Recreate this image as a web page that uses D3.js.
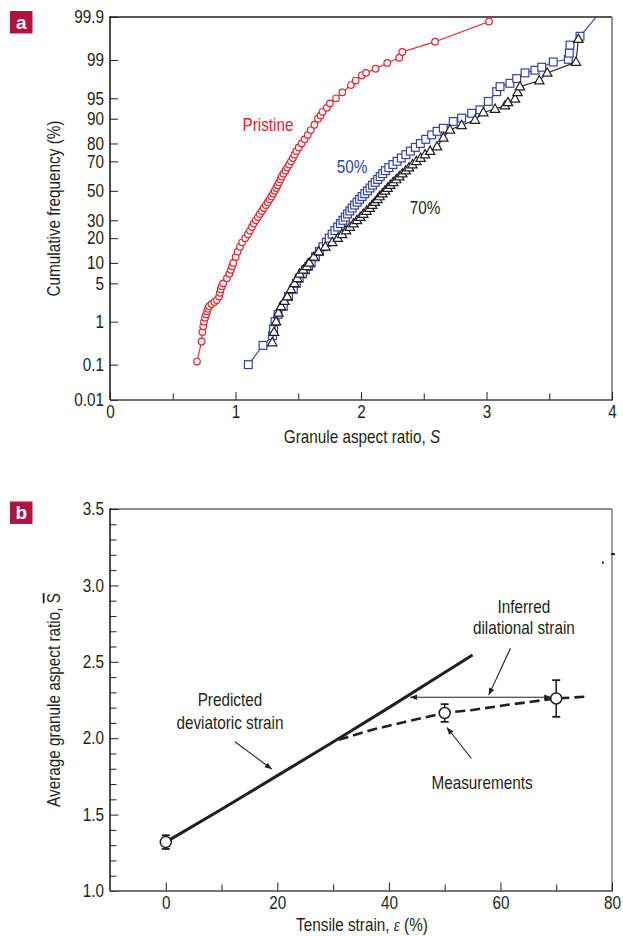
<!DOCTYPE html>
<html>
<head>
<meta charset="utf-8">
<title>granule aspect ratio</title>
<script src="https://cdn.jsdelivr.net/npm/d3@7"></script>
<style>
body { margin: 0; background: #fff; }
svg text { font-family: "Liberation Sans", Arial, sans-serif; font-size: 18px; fill: #231f20; }
.tick line { stroke: #231f20; }
</style>
</head>
<body>
<svg id="chart" width="623" height="936"></svg>
<script>
// panel a : cumulative frequency (%) vs granule aspect ratio S
var pristinePct = [0.12,0.37,0.6,0.8,1.0,1.2,1.4,1.6,1.8,2.0,2.2,2.4,2.6,3,3.5,4,4.5,5,6,7,8,9,10,12,14,16,18,20,22,24,26,28,30,32,34,36,38,40,42,44,46,48,50,52,54,56,58,60,62,64,66,68,70,72,74,76,78,80,82,84,86,88,90,91,92,93,94,95,96,97,97.5,98,98.2,98.5,98.85,99.1,99.32,99.6,99.87];
var pristineS = [0.693,0.730,0.736,0.743,0.749,0.757,0.766,0.773,0.781,0.789,0.809,0.831,0.851,0.869,0.876,0.882,0.891,0.902,0.932,0.951,0.963,0.973,0.982,1.001,1.017,1.036,1.053,1.077,1.099,1.115,1.131,1.145,1.162,1.178,1.194,1.210,1.226,1.242,1.257,1.271,1.286,1.300,1.312,1.324,1.335,1.347,1.359,1.368,1.382,1.398,1.412,1.427,1.442,1.457,1.470,1.485,1.504,1.527,1.551,1.576,1.600,1.629,1.657,1.678,1.693,1.728,1.752,1.801,1.851,1.920,1.957,2.006,2.040,2.116,2.209,2.305,2.329,2.590,3.020];

var s50Pct = [0.1,0.3,0.5,0.7,1.0,1.4,2,3,4,5,6,7,8,9,10,12,14,16,18,20,22,24,26,28,30,32,34,36,38,40,42,44,46,48,50,52,54,56,58,60,62,64,66,68,70,72,74,76,78,80,82,84,85.5,86.7,89.1,90.2,91.6,92.5,94.4,96.1,96.8,97.2,97.7,98.2,98.4,98.6,98.9,99.03,99.28,99.52,99.7,99.95];
var s50S = [1.102,1.219,1.295,1.303,1.315,1.339,1.381,1.422,1.461,1.485,1.508,1.534,1.558,1.583,1.603,1.637,1.668,1.697,1.724,1.747,1.770,1.792,1.814,1.836,1.856,1.875,1.893,1.911,1.929,1.949,1.969,1.989,2.009,2.030,2.051,2.072,2.092,2.113,2.133,2.153,2.173,2.194,2.222,2.254,2.287,2.321,2.357,2.393,2.433,2.473,2.516,2.563,2.606,2.656,2.735,2.802,2.882,2.948,3.014,3.081,3.108,3.187,3.241,3.307,3.386,3.440,3.532,3.652,3.660,3.665,3.745,3.95];

var s70Pct = [0.35,0.6,1.0,1.5,2.0,2.5,3,4,5,6,7,8,9,10,12,14,16,18,20,22,24,26,28,30,32,34,36,38,40,42,44,46,48,50,52,54,56,58,60,62,64,66,68,70,72,74,76,78.4,82.7,86.1,87.8,89.6,91.8,92.7,93.5,94.2,94.9,96.0,96.8,97.5,98.2,98.9,99.65];
var s70S = [1.293,1.307,1.323,1.342,1.363,1.390,1.413,1.442,1.470,1.493,1.511,1.541,1.568,1.588,1.624,1.663,1.716,1.771,1.815,1.849,1.881,1.911,1.940,1.968,1.994,2.018,2.044,2.069,2.089,2.110,2.131,2.148,2.170,2.191,2.212,2.233,2.257,2.281,2.305,2.329,2.356,2.382,2.410,2.441,2.475,2.510,2.551,2.606,2.656,2.709,2.802,2.908,2.975,3.068,3.147,3.171,3.227,3.247,3.267,3.421,3.484,3.713,3.732];

var freqTicks = [0.01,0.1,1,5,10,20,30,50,70,80,90,95,99,99.9];
var freqTickLabels = ["0.01","0.1","1","5","10","20","30","50","70","80","90","95","99","99.9"];

// panel b : average aspect ratio vs tensile strain
var strainMeas = [0, 50, 70];
var meanS = [1.32, 2.165, 2.26];
var errS = [0.045, 0.058, 0.12];
var predStrain = [0, 10, 20, 30, 40, 50, 55];
var predS = [1.32, 1.535, 1.755, 1.975, 2.20, 2.43, 2.545];
var dilStrain = [31, 37, 43, 50, 55, 61, 70, 75.5];
var dilS = [1.99, 2.055, 2.108, 2.165, 2.185, 2.217, 2.26, 2.272];

var RED = "#e3262e", BLUE = "#2f44a0", BLACK = "#231f20", BOXRED = "#b3123f";
var NARROW = 0.85;   // no condensed face installed, squeeze the sans instead

// inverse of the normal cdf (Acklam)
function probit(p) {
    var a = [-3.969683028665376e+01, 2.209460984245205e+02, -2.759285104469687e+02, 1.383577518672690e+02, -3.066479806614716e+01, 2.506628277459239e+00];
    var b = [-5.447609879822406e+01, 1.615858368580409e+02, -1.556989798598866e+02, 6.680131188771972e+01, -1.328068155288572e+01];
    var c = [-7.784894002430293e-03, -3.223964580411365e-01, -2.400758277161838e+00, -2.549732539343734e+00, 4.374664141464968e+00, 2.938163982698783e+00];
    var d = [7.784695709041462e-03, 3.224671290700398e-01, 2.445134137142996e+00, 3.754408661907416e+00];
    var q, r;
    if (p < 0.02425) {
        q = Math.sqrt(-2 * Math.log(p));
        return (((((c[0]*q+c[1])*q+c[2])*q+c[3])*q+c[4])*q+c[5]) / ((((d[0]*q+d[1])*q+d[2])*q+d[3])*q+1);
    }
    if (p <= 1 - 0.02425) {
        q = p - 0.5; r = q * q;
        return (((((a[0]*r+a[1])*r+a[2])*r+a[3])*r+a[4])*r+a[5])*q / (((((b[0]*r+b[1])*r+b[2])*r+b[3])*r+b[4])*r+1);
    }
    q = Math.sqrt(-2 * Math.log(1 - p));
    return -(((((c[0]*q+c[1])*q+c[2])*q+c[3])*q+c[4])*q+c[5]) / ((((d[0]*q+d[1])*q+d[2])*q+d[3])*q+1);
}

var svg = d3.select("#chart");

svg.append("defs").append("marker")
    .attr("id", "head")
    .attr("viewBox", "0 0 10 10").attr("refX", 10).attr("refY", 5)
    .attr("markerWidth", 9).attr("markerHeight", 7).attr("markerUnits", "userSpaceOnUse")
    .attr("orient", "auto-start-reverse")
  .append("path").attr("d", "M0,1 L10,5 L0,9 Z").attr("fill", BLACK);

function panelLetter(y, t) {
    svg.append("rect").attr("x", 10).attr("y", y).attr("width", 22.5).attr("height", 22.5).attr("fill", BOXRED);
    svg.append("text").attr("class", "letter").attr("x", 21.2).attr("y", y + 17.5).attr("text-anchor", "middle")
        .style("font-weight", "bold").style("font-size", "19px").style("fill", "#fff").text(t);
}

// ---------------- panel a ----------------
var ax0 = 110, ax1 = 612, ay0 = 17, ay1 = 400;
var xa = d3.scaleLinear().domain([0, 4]).range([ax0, ax1]);
var za = d3.scaleLinear().domain([probit(0.0001), probit(0.999)]).range([ay1, ay0]);
function ya(p) { return za(probit(p / 100)); }

panelLetter(11, "a");

var ga = svg.append("g");
ga.append("defs").append("clipPath").attr("id", "clipA")
  .append("rect").attr("x", ax0).attr("y", ay0).attr("width", ax1 - ax0).attr("height", ay1 - ay0);

// frame
ga.append("line").attr("x1", ax0).attr("x2", ax1).attr("y1", ay0).attr("y2", ay0).attr("stroke", BLACK).attr("stroke-width", 1.6);
ga.append("line").attr("x1", ax1).attr("x2", ax1).attr("y1", ay0).attr("y2", ay1).attr("stroke", "#7a7a7a").attr("stroke-width", 1.6);

var yAxisA = d3.axisLeft(za)
    .tickValues(freqTicks.map(function(v){ return probit(v / 100); }))
    .tickFormat(function(d, i){ return freqTickLabels[i]; })
    .tickSize(-8).tickPadding(6);
ga.append("g").attr("transform", "translate(" + ax0 + ",0)").call(yAxisA)
  .call(function(g){ g.select(".domain").remove(); g.selectAll("text").style("font-size", "18px").attr("fill", BLACK); });

var xAxisA = d3.axisBottom(xa)
    .tickValues(d3.range(0, 4.01, 0.5))
    .tickFormat(function(d){ return d % 1 === 0 ? d : ""; })
    .tickSize(-8).tickPadding(5);
ga.append("g").attr("transform", "translate(0," + ay1 + ")").call(xAxisA)
  .call(function(g){
      g.select(".domain").remove();
      g.selectAll(".tick line").attr("y2", function(d){ return d % 1 === 0 ? -8 : -6.5; });
      g.selectAll("text").style("font-size", "18px").attr("fill", BLACK);
  });

ga.append("line").attr("x1", ax0).attr("x2", ax0).attr("y1", ay0 - 0.8).attr("y2", ay1).attr("stroke", BLACK).attr("stroke-width", 1.6);
ga.append("line").attr("x1", ax0).attr("x2", ax1 + 0.8).attr("y1", ay1).attr("y2", ay1).attr("stroke", "#444").attr("stroke-width", 1.6);

var titleA = ga.append("text").attr("x", (ax0 + ax1) / 2 + 1).attr("y", 443).attr("text-anchor", "middle");
titleA.append("tspan").text("Granule aspect ratio, ");
titleA.append("tspan").style("font-style", "italic").text("S");

ga.append("text").attr("transform", "translate(60," + ((ay0 + ay1) / 2) + ") rotate(-90)")
  .attr("text-anchor", "middle").text("Cumulative frequency (%)");

var plotA = ga.append("g").attr("clip-path", "url(#clipA)");

function series(pct, S) {
    return pct.map(function(p, i){ return [xa(S[i]), ya(p)]; });
}
var line = d3.line();

var redPts = series(pristinePct, pristineS);
var bluePts = series(s50Pct, s50S);
var blackPts = series(s70Pct, s70S);

plotA.append("path").attr("d", line(redPts)).attr("fill", "none").attr("stroke", RED).attr("stroke-width", 1.1);
plotA.selectAll(".c").data(redPts).enter().append("circle")
    .attr("cx", function(d){ return d[0]; }).attr("cy", function(d){ return d[1]; })
    .attr("r", 3.3).attr("fill", "#fff").attr("stroke", RED).attr("stroke-width", 1.2);

plotA.append("path").attr("d", line(bluePts)).attr("fill", "none").attr("stroke", BLUE).attr("stroke-width", 1.1);
plotA.selectAll(".sq").data(bluePts).enter().append("rect")
    .attr("x", function(d){ return d[0] - 3.9; }).attr("y", function(d){ return d[1] - 3.9; })
    .attr("width", 7.8).attr("height", 7.8)
    .attr("fill", "#fff").attr("stroke", BLUE).attr("stroke-width", 1.2);

plotA.append("path").attr("d", line(blackPts)).attr("fill", "none").attr("stroke", BLACK).attr("stroke-width", 1.1);
plotA.selectAll(".tr").data(blackPts).enter().append("path")
    .attr("d", function(d){ return "M" + d[0] + "," + (d[1] - 5) + "L" + (d[0] + 4.7) + "," + (d[1] + 3.3) + "L" + (d[0] - 4.7) + "," + (d[1] + 3.3) + "Z"; })
    .attr("fill", "#fff").attr("stroke", BLACK).attr("stroke-width", 1.2);

ga.append("text").attr("x", xa(1.259)).attr("y", ya(88)).attr("dy", "0.35em").attr("text-anchor", "middle").style("fill", RED).text("Pristine");
ga.append("text").attr("x", xa(1.928)).attr("y", ya(66.5)).attr("dy", "0.35em").attr("text-anchor", "middle").style("fill", BLUE).text("50%");
ga.append("text").attr("x", xa(2.51)).attr("y", ya(38)).attr("dy", "0.35em").attr("text-anchor", "middle").text("70%");

// ---------------- panel b ----------------
var bx0 = 110, bx1 = 612, by0 = 509, by1 = 891;
var xb = d3.scaleLinear().domain([-10, 80]).range([bx0, bx1]);
var yb = d3.scaleLinear().domain([1.0, 3.5]).range([by1, by0]);

panelLetter(501.5, "b");

var gb = svg.append("g");
gb.append("line").attr("x1", bx0).attr("x2", bx1).attr("y1", by0).attr("y2", by0).attr("stroke", "#6a6a6a").attr("stroke-width", 1.6);
gb.append("line").attr("x1", bx1).attr("x2", bx1).attr("y1", by0).attr("y2", by1).attr("stroke", "#8a8a8a").attr("stroke-width", 1.6);

function isHalf(d) { return Math.abs(d * 2 - Math.round(d * 2)) < 1e-6; }
var yAxisB = d3.axisLeft(yb).tickValues(d3.range(1.0, 3.51, 0.1))
    .tickFormat(function(d){ return isHalf(d) ? d3.format(".1f")(d) : ""; })
    .tickSize(-8).tickPadding(6);
gb.append("g").attr("transform", "translate(" + bx0 + ",0)").call(yAxisB)
  .call(function(g){
      g.select(".domain").remove();
      g.selectAll(".tick line").attr("x2", function(d){ return isHalf(d) ? 8.5 : 6.5; });
      g.selectAll("text").style("font-size", "18px").attr("fill", BLACK);
  });

var xAxisB = d3.axisBottom(xb).tickValues(d3.range(0, 80.1, 10))
    .tickFormat(function(d){ return d % 20 === 0 ? d : ""; })
    .tickSize(-8).tickPadding(5);
gb.append("g").attr("transform", "translate(0," + by1 + ")").call(xAxisB)
  .call(function(g){
      g.select(".domain").remove();
      g.selectAll(".tick line").attr("y2", function(d){ return d % 20 === 0 ? -8.5 : -6.5; });
      g.selectAll("text").style("font-size", "18px").attr("fill", BLACK);
  });

gb.append("line").attr("x1", bx0).attr("x2", bx0).attr("y1", by0 - 0.8).attr("y2", by1).attr("stroke", BLACK).attr("stroke-width", 1.6);
gb.append("line").attr("x1", bx0).attr("x2", bx1 + 0.8).attr("y1", by1).attr("y2", by1).attr("stroke", "#444").attr("stroke-width", 1.6);

var titleB = gb.append("text").attr("x", (bx0 + bx1) / 2 + 1).attr("y", 931).attr("text-anchor", "middle");
titleB.append("tspan").text("Tensile strain, ");
titleB.append("tspan").style("font-family", "Liberation Serif, serif").style("font-style", "italic").text("\u03b5");
titleB.append("tspan").text(" (%)");

var yTitleB = gb.append("text").attr("transform", "translate(60," + ((by0 + by1) / 2) + ") rotate(-90)").attr("text-anchor", "middle");
yTitleB.append("tspan").text("Average granule aspect ratio, ");
yTitleB.append("tspan").style("text-decoration", "overline").text("S");

// stray marks at the top right of panel b
gb.append("rect").attr("x", bx1 - 1).attr("y", yb(3.205) - 1).attr("width", 4).attr("height", 2).attr("fill", BLACK);
gb.append("rect").attr("x", xb(78.2)).attr("y", yb(3.149) - 1).attr("width", 2).attr("height", 2).attr("fill", BLACK);

var lineB = d3.line().x(function(d){ return xb(d[0]); }).y(function(d){ return yb(d[1]); });

gb.append("path").attr("d", lineB(predStrain.map(function(v, i){ return [v, predS[i]]; })))
  .attr("fill", "none").attr("stroke", BLACK).attr("stroke-width", 3);

gb.append("path").attr("d", lineB(dilStrain.map(function(v, i){ return [v, dilS[i]]; })))
  .attr("fill", "none").attr("stroke", BLACK).attr("stroke-width", 2.6).attr("stroke-dasharray", "10,5");

// inferred dilational strain: horizontal double arrow
gb.append("line").attr("x1", xb(43.8)).attr("x2", xb(69.1)).attr("y1", yb(2.268)).attr("y2", yb(2.268))
  .attr("stroke", BLACK).attr("stroke-width", 1.2)
  .attr("marker-start", "url(#head)").attr("marker-end", "url(#head)");

// measurements with error bars
strainMeas.forEach(function(e, i){
    var cx = xb(e), top = yb(meanS[i] + errS[i]), bot = yb(meanS[i] - errS[i]);
    gb.append("line").attr("x1", cx).attr("x2", cx).attr("y1", top).attr("y2", bot).attr("stroke", BLACK).attr("stroke-width", 1.6);
    gb.append("line").attr("x1", cx - 4).attr("x2", cx + 4).attr("y1", top).attr("y2", top).attr("stroke", BLACK).attr("stroke-width", 1.8);
    gb.append("line").attr("x1", cx - 4).attr("x2", cx + 4).attr("y1", bot).attr("y2", bot).attr("stroke", BLACK).attr("stroke-width", 1.8);
    gb.append("circle").attr("cx", cx).attr("cy", yb(meanS[i])).attr("r", 5.5)
      .attr("fill", "#fff").attr("stroke", BLACK).attr("stroke-width", 1.5);
});

// annotations
function note(x1, y1, x2, y2) {
    gb.append("line").attr("x1", xb(x1)).attr("y1", yb(y1)).attr("x2", xb(x2)).attr("y2", yb(y2))
      .attr("stroke", BLACK).attr("stroke-width", 1.1).attr("marker-end", "url(#head)");
}
note(12.4, 1.977, 19.0, 1.798);
note(61.8, 2.588, 57.9, 2.282);
note(54.8, 1.867, 50.4, 2.07);

function label(x, y, t) {
    gb.append("text").attr("x", xb(x)).attr("y", yb(y)).attr("dy", "0.35em").attr("text-anchor", "middle").text(t);
}
label(11.5, 2.253, "Predicted");
label(11.5, 2.103, "deviatoric strain");
label(64.2, 2.86, "Inferred");
label(64.2, 2.722, "dilational strain");
label(56.7, 1.707, "Measurements");

// squeeze every label horizontally around its own anchor point
svg.selectAll("text:not(.letter)").each(function(){
    var t = d3.select(this);
    var x = +t.attr("x") || 0;
    var tr = t.attr("transform") || "";
    t.attr("transform", tr + " translate(" + x + ",0) scale(" + NARROW + ",1) translate(" + (-x) + ",0)");
});
</script>
</body>
</html>
